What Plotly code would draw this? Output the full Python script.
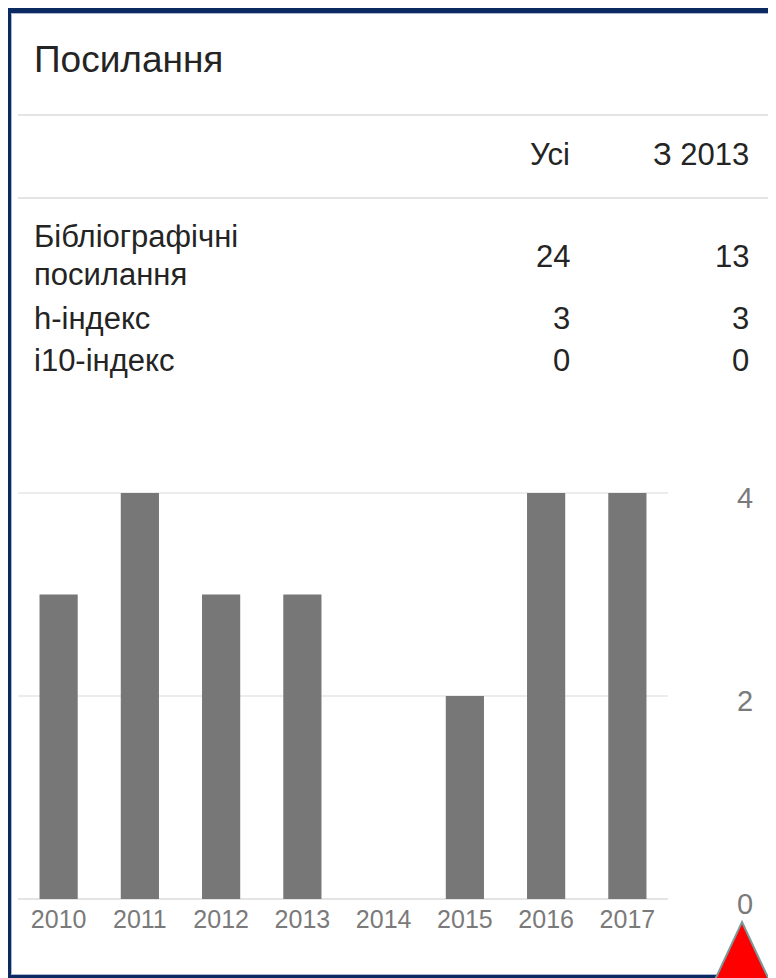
import plotly.graph_objects as go

# page is offset by the 8px body margin, so figure covers page pixels 8..776 / 8..978
OFF = 8
W, H = 768, 970

years = ["2010", "2011", "2012", "2013", "2014", "2015", "2016", "2017"]
citations = [3, 4, 3, 3, 0, 2, 4, 4]
y_ticks = [0, 2, 4]

title_text = "Посилання"
col_headers = ["Усі", "З 2013"]
row_label_lines = [["Бібліографічні", "посилання"], ["h-індекс"], ["i10-індекс"]]
col_all = [24, 3, 0]
col_since = [13, 3, 0]


def px(x):
    return (x - OFF) / W


def py(y):
    return 1 - (y - OFF) / H


FONT = "Liberation Sans, Arial, sans-serif"
TXT = "#242424"
TFS = 31

fig = go.Figure()
fig.add_trace(go.Bar(
    x=years, y=citations,
    marker=dict(color="#777777", line=dict(width=0)),
    hoverinfo="x+y",
))

P = dict(xref="paper", yref="paper")
shapes = [
    dict(type="rect", **P, x0=px(0), x1=px(800), y0=py(0), y1=py(1000),
         fillcolor="#0c2a62", line=dict(width=0), layer="below"),
    dict(type="rect", **P, x0=px(11), x1=px(800), y0=py(13), y1=py(975),
         fillcolor="#a9b8d0", line=dict(width=0), layer="below"),
    dict(type="rect", **P, x0=px(12), x1=px(800), y0=py(14), y1=py(974),
         fillcolor="#ffffff", line=dict(width=0), layer="below"),
    dict(type="line", **P, x0=px(18), x1=px(780), y0=py(115), y1=py(115),
         line=dict(color="#e4e4e4", width=2)),
    dict(type="line", **P, x0=px(18), x1=px(772), y0=py(198), y1=py(198),
         line=dict(color="#e4e4e4", width=2)),
    dict(type="path", **P,
         path=f"M {px(742)} {py(922)} L {px(771)} {py(984)} L {px(713)} {py(984)} Z",
         fillcolor="#ff0000", line=dict(color="#7a9a9a", width=2)),
]


def ann(text, x, y, anchor, size=TFS):
    return dict(text=text, **P, x=px(x), y=py(y), xanchor=anchor, yanchor="middle",
                showarrow=False, font=dict(size=size, color=TXT, family=FONT))


annotations = [
    ann(title_text, 32, 59, "left", 37),
    ann(col_headers[0], 572, 154, "right"),
    ann(col_headers[1], 751, 154, "right"),
]
row_line_y = [[236, 274], [318], [360]]
row_num_y = [257, 318, 360]
for lines, ys, a, s, ny in zip(row_label_lines, row_line_y, col_all, col_since, row_num_y):
    for t, yy in zip(lines, ys):
        annotations.append(ann(t, 32, yy, "left"))
    annotations.append(ann(str(a), 572, ny, "right"))
    annotations.append(ann(str(s), 751, ny, "right"))

fig.update_layout(
    width=W, height=H,
    margin=dict(l=0, r=0, t=0, b=0, pad=0),
    paper_bgcolor="#ffffff",
    plot_bgcolor="rgba(0,0,0,0)",
    showlegend=False,
    bargap=0.53,
    shapes=shapes,
    annotations=annotations,
    xaxis=dict(domain=[px(18), px(668)], type="category", range=[-0.5, 7.5], automargin=False,
               showgrid=False, zeroline=False, showline=False, ticks="",
               tickfont=dict(size=25, color="#7a7a7a", family=FONT), ticklabelstandoff=3),
    yaxis=dict(domain=[py(899), py(491)], range=[0, 4.02], side="right", automargin=False,
               tickvals=y_ticks, showgrid=True, gridcolor="#ececec", gridwidth=2,
               zeroline=True, zerolinecolor="#e4e4e4", zerolinewidth=2, showline=False,
               ticks="", ticklabelstandoff=68, ticklabelshift=5,
               tickfont=dict(size=29, color="#7a7a7a", family=FONT)),
)

fig.write_html("out.html")
